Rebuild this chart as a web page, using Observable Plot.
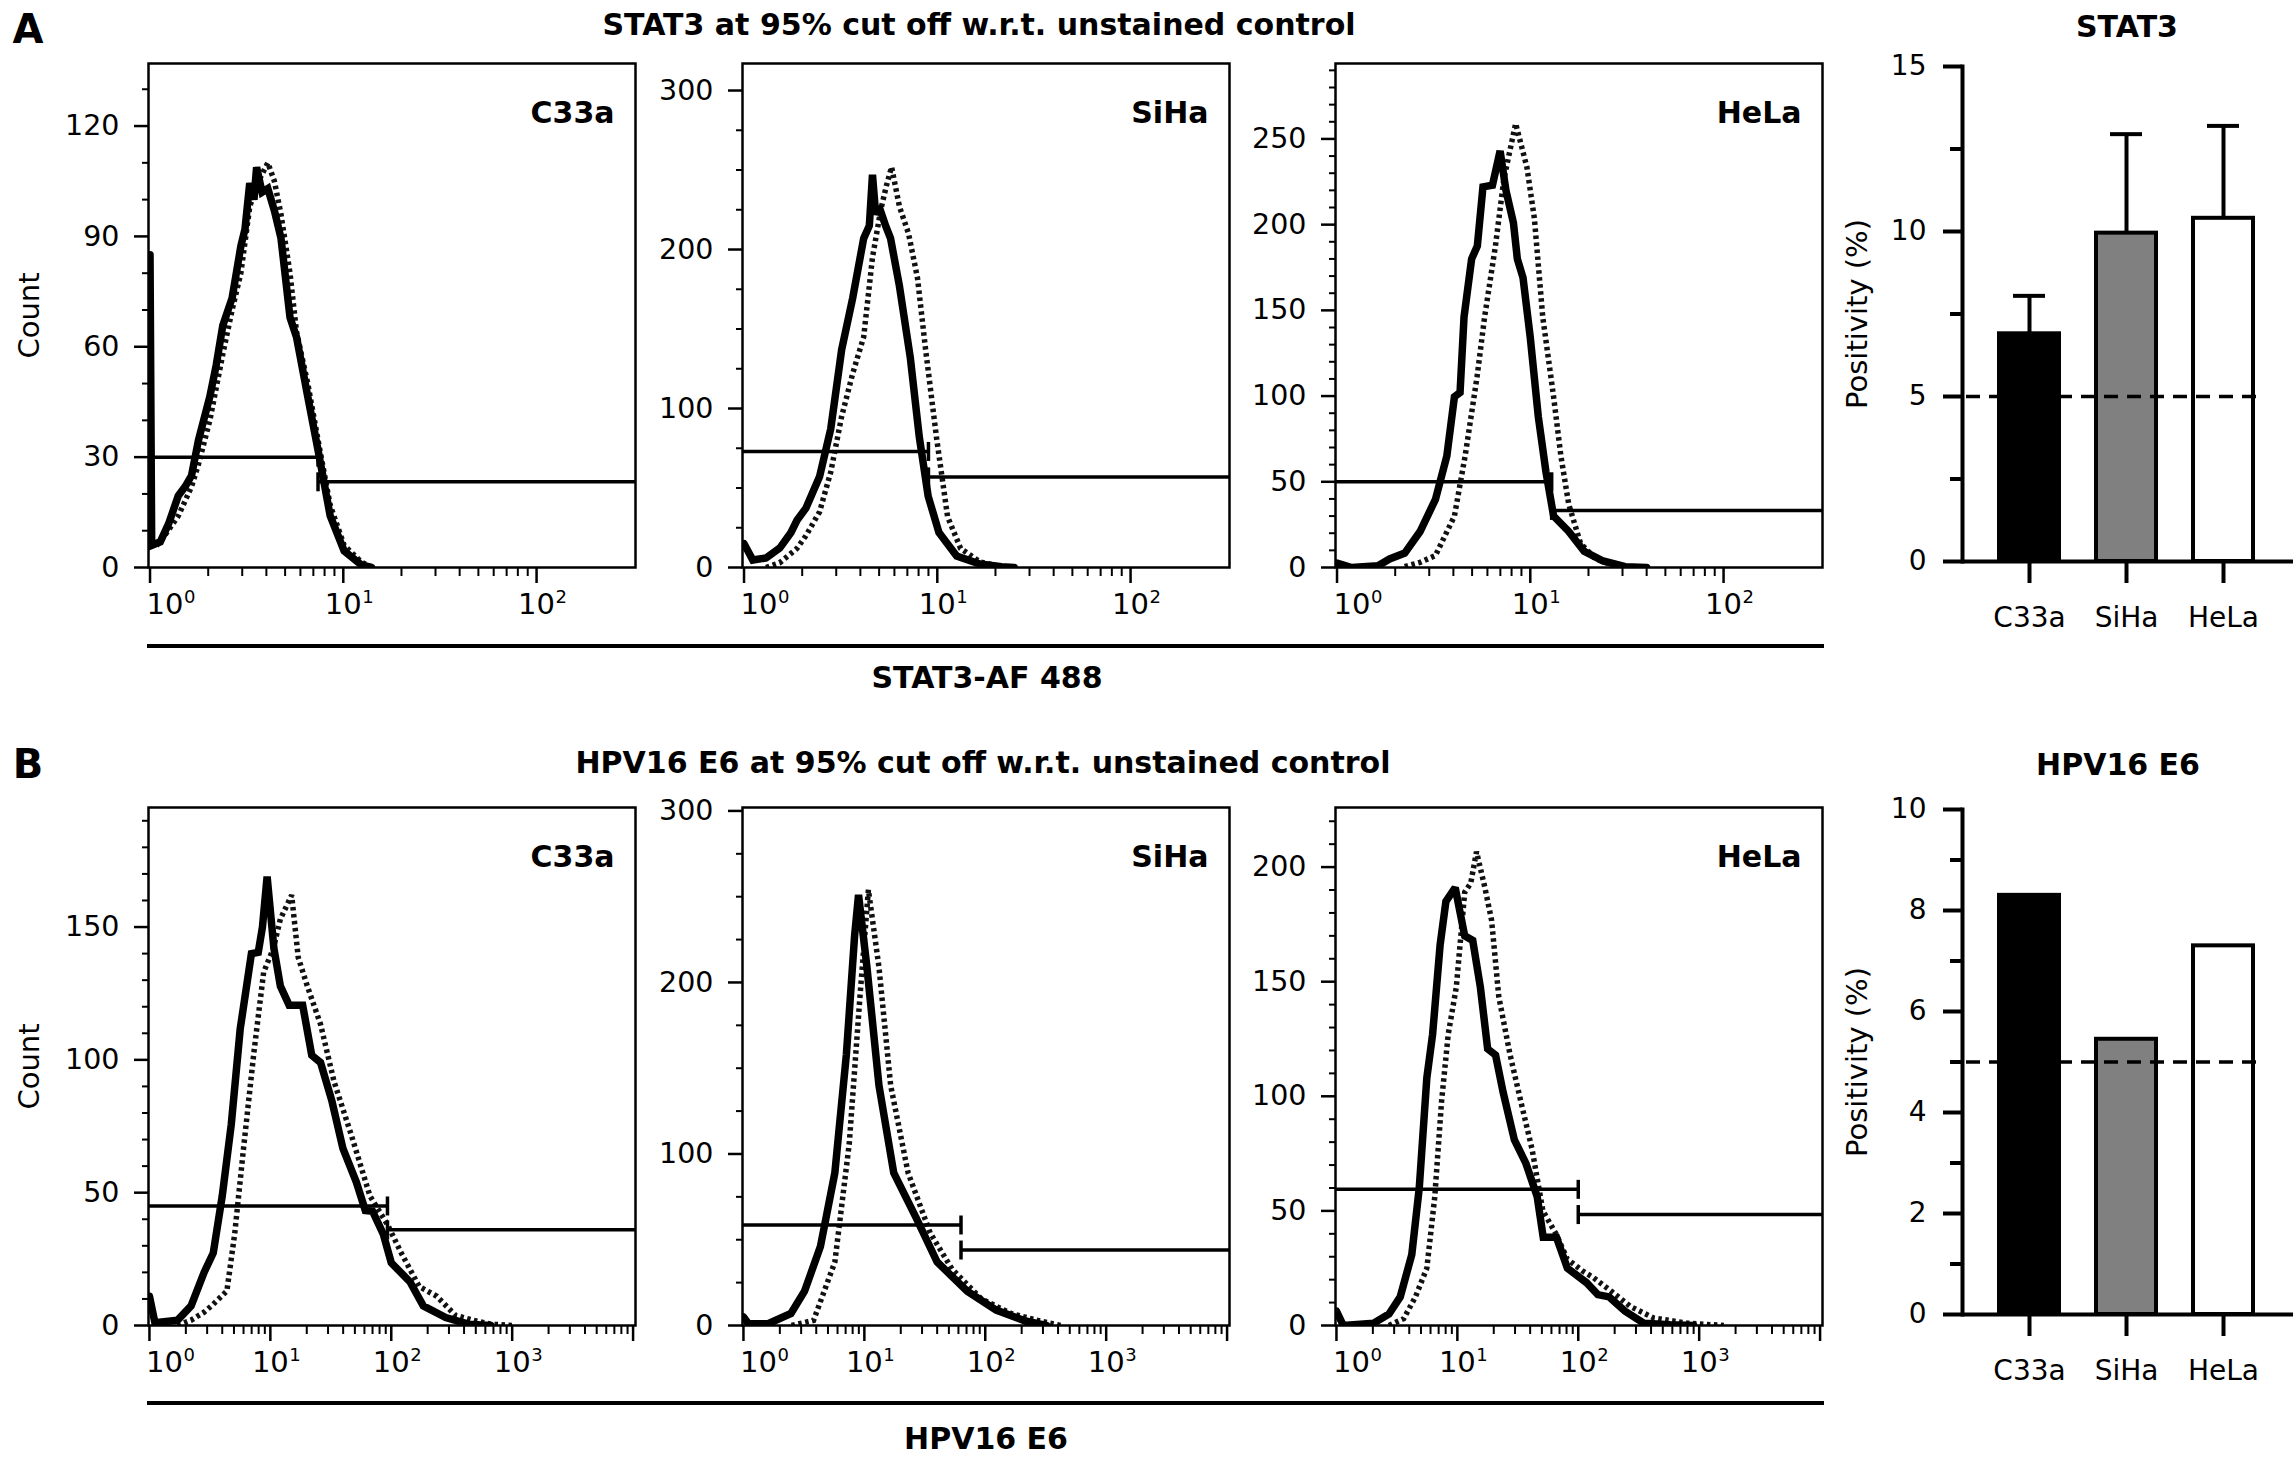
<!DOCTYPE html>
<html>
<head>
<meta charset="utf-8">
<script src="https://cdn.jsdelivr.net/npm/d3@7"></script>
<script src="https://cdn.jsdelivr.net/npm/@observablehq/plot@0.6"></script>
<style>
  html, body { margin: 0; padding: 0; background: #fff; }
  #fig { position: relative; width: 2295px; height: 1464px; background: #fff; overflow: hidden;
         font-family: "DejaVu Sans", Verdana, sans-serif; color: #000; }
  #fig > svg { position: absolute; }
  #fig .lbl { position: absolute; transform: translate(-50%, -50%); white-space: nowrap; line-height: 1; }
  #fig .b { font-weight: bold; }
  #fig .rule { position: absolute; background: #000; }
</style>
</head>
<body>
<div id="fig"></div>
<script>
// ---------- data ----------
const cellLines = ["C33a", "SiHa", "HeLa"];

// percent of cells above the 95% gate of the unstained control
const stat3Positivity = [6.9, 9.95, 10.4];
const stat3Sd = [1.15, 3.0, 2.8];
const e6Positivity = [8.3, 5.45, 7.3];
const cutoffPct = 5;

// STAT3-AF 488 histograms: fluorescence (x) and event counts (y)
const stat3C33aControlX = [1.0, 1.02, 1.13, 1.25, 1.4, 1.52, 1.64, 1.78, 2.04, 2.2, 2.38, 2.66, 2.95, 3.1, 3.28, 3.45, 3.56, 3.8, 4.07, 4.4, 4.76, 5.3, 5.73, 6.55, 7.5, 8.55, 10.1, 12.4, 14];
const stat3C33aControlY = [85, 6, 7, 12, 19.5, 22, 25, 34.6, 46.5, 55, 65.8, 73.3, 87.3, 92, 104.5, 100, 108.8, 102, 103, 97, 89.5, 68, 62.6, 46.4, 30.3, 14.1, 4.5, 0.7, 0];
const stat3C33aStainedX = [1.08, 1.13, 1.4, 1.64, 1.78, 2.04, 2.38, 2.66, 2.95, 3.28, 3.56, 4.07, 4.4, 4.76, 5.3, 5.73, 6.55, 7.5, 8.55, 10.1, 12.4, 14];
const stat3C33aStainedY = [6, 7, 14, 22, 28, 40, 58, 70, 80, 98, 104, 110, 105, 96, 80, 64, 50, 33, 17, 6, 1.5, 0];

const stat3SiHaControlX = [1.0, 1.11, 1.3, 1.53, 1.75, 1.88, 2.09, 2.46, 2.81, 3.2, 3.65, 4.16, 4.45, 4.62, 4.8, 5.0, 5.4, 5.73, 6.37, 7.25, 8.07, 8.97, 10.2, 12.6, 16.6, 21.5, 25];
const stat3SiHaControlY = [15, 4.7, 6, 12.2, 22, 29.7, 37.3, 57.2, 87.2, 137, 169.5, 207, 215, 247, 222, 227, 215, 207, 177, 132, 82, 44.8, 22, 7.2, 2.2, 0.5, 0];
const stat3SiHaStainedX = [1.3, 1.53, 1.88, 2.09, 2.46, 2.81, 3.2, 3.65, 4.16, 4.62, 5.1, 5.45, 5.8, 6.37, 7.1, 7.9, 8.7, 9.9, 11.3, 13.2, 16.6, 21.5, 25];
const stat3SiHaStainedY = [0, 3, 12, 20, 35, 60, 95, 122, 145, 195, 225, 240, 252, 227, 210, 182, 137, 82, 32, 12, 3.5, 0.5, 0];

const stat3HeLaControlX = [1.0, 1.19, 1.63, 1.87, 2.24, 2.69, 3.23, 3.7, 4.05, 4.33, 4.54, 4.97, 5.32, 5.69, 6.37, 6.98, 7.48, 8.18, 8.57, 9.17, 10, 11, 12.05, 13.2, 15.8, 19, 23.8, 31, 40];
const stat3HeLaControlY = [2.6, 0, 1, 5, 8.4, 21, 39.7, 65, 99.6, 102, 146, 180, 187.5, 222, 223, 243, 220, 201, 180, 169, 134, 88, 55.8, 30, 21, 9.5, 3.8, 0.5, 0];
const stat3HeLaStainedX = [2.24, 2.69, 3.23, 4.05, 4.6, 5.3, 5.8, 6.6, 7.3, 8.4, 9.6, 10.5, 11.6, 13.2, 14.4, 15.8, 18.2, 21.8, 26.8, 32, 40];
const stat3HeLaStainedY = [0.5, 3, 7, 30, 65, 111, 146, 187.5, 226.6, 259, 233.6, 203.6, 146, 99.6, 65, 37, 14, 5, 1.5, 0.3, 0];

// HPV16 E6 histograms
const e6C33aControlX = [1.0, 1.11, 1.71, 2.21, 2.83, 3.37, 4.0, 4.75, 5.63, 6.97, 7.94, 8.6, 9.4, 10.7, 12.1, 14.3, 18.5, 22, 26, 32.2, 39.8, 51.4, 61, 70, 85.7, 100, 143, 184, 282, 435, 665];
const e6C33aControlY = [11, 1, 2, 7.4, 20, 27.3, 48.8, 75.7, 111.6, 140, 140.5, 150, 169, 142, 127.8, 120.6, 120.6, 101.7, 99, 84.7, 66.7, 54, 43.3, 43, 34.5, 23.6, 16.4, 7.4, 3, 0.5, 0];
const e6C33aStainedX = [1.71, 2.21, 2.83, 3.37, 4.37, 5.07, 6.0, 7.3, 8.8, 10.6, 12.1, 15.0, 17.0, 20.2, 26, 33.6, 46.5, 66.6, 93, 121, 170, 238, 340, 474, 665, 1000];
const e6C33aStainedY = [0, 2, 5, 8, 13, 34.5, 66.7, 102.6, 133, 142, 153, 162, 138.6, 127.8, 113.4, 91.9, 72, 48.8, 38, 27.3, 14.7, 11, 3.8, 2, 0.5, 0];

const e6SiHaControlX = [1.0, 1.1, 1.6, 2.47, 3.2, 4.33, 5.7, 7.1, 8.3, 8.95, 10.5, 13.2, 17.5, 26.7, 40, 71, 123, 215, 320];
const e6SiHaControlY = [5, 1, 1, 7, 20, 46, 89, 158, 227, 251, 209, 140, 89, 63, 37, 20, 9, 2.6, 0];
const e6SiHaStainedX = [2.5, 3.8, 5.7, 7.5, 9.2, 10.8, 13.2, 16.5, 23, 35, 53, 93, 163, 285, 420];
const e6SiHaStainedY = [0, 3, 37, 106, 192, 254, 209, 140, 89, 54, 33, 15.5, 7, 2.6, 0];

const e6HeLaControlX = [1.0, 1.14, 2.03, 2.72, 3.37, 4.2, 4.84, 5.59, 6.24, 7.2, 8.04, 9.6, 11.5, 13.4, 15.5, 17.8, 20.7, 23.9, 29.6, 36.9, 45.7, 51.3, 66, 81.3, 117, 145, 180, 243, 348, 575, 900];
const e6HeLaControlY = [6.3, 0, 1, 5, 12.5, 31, 60, 108, 127, 166, 185, 191, 170, 168, 147.6, 120.7, 118, 101.8, 81, 70.7, 56.3, 38.5, 38.5, 25, 18.7, 13.5, 12.5, 6.3, 1, 0.3, 0];
const e6HeLaStainedX = [2.72, 3.6, 4.5, 5.59, 6.5, 7.4, 8.4, 9.8, 11.5, 12.9, 14.4, 16.9, 19.2, 22, 27.2, 33.5, 41.5, 51, 66, 81, 108, 134, 190, 270, 420, 800, 1600];
const e6HeLaStainedY = [0, 3, 12.5, 25, 56, 97.7, 127, 147.6, 189, 193, 206.7, 191, 176.7, 143.5, 118.5, 97.7, 76.9, 50, 39.6, 29, 23.9, 20.8, 14.7, 8.3, 3.3, 1, 0];

// gate marker: split point and the heights of its two segments
const stat3Gates = [{at: 7.4, below: 30, above: 23.3}, {at: 9.0, below: 73, above: 57}, {at: 12.9, below: 50, above: 33.3}];
const e6Gates = [{at: 93, below: 45, above: 36}, {at: 63, below: 58.6, above: 44}, {at: 100, below: 59.4, above: 48.4}];

// axis ticks
const stat3YTicks = [[0, 30, 60, 90, 120], [0, 100, 200, 300], [0, 50, 100, 150, 200, 250]];
const stat3YMinorStep = [10, 25, 10];
const stat3YMax = [137, 317, 294];
const e6YTicks = [[0, 50, 100, 150], [0, 100, 200, 300], [0, 50, 100, 150, 200]];
const e6YMinorStep = [10, 25, 10];
const e6YMax = [195, 302, 226];
const stat3Decades = [1, 10, 100];
const stat3Exponents = ["0", "1", "2"];
const e6Decades = [1, 10, 100, 1000, 10000];
const e6Exponents = ["0", "1", "2", "3"];

// ---------- layout ----------
const fig = document.getElementById("fig");
const FONT = "DejaVu Sans, Verdana, sans-serif";
const panelLefts = [148, 742, 1335];
const panelWidth = 487;

const zip = (xs, ys) => xs.map((x, i) => ({x, y: ys[i]}));
const minorLogTicks = (decades) => decades.slice(0, -1).flatMap(d => [2, 3, 4, 5, 6, 7, 8, 9].map(m => m * d));
const plainNumber = (d) => String(d);

// short vertical line used for the gate end caps
const capSymbol = {
  draw(ctx, size) {
    const r = Math.sqrt(size / Math.PI);
    ctx.moveTo(0, -r);
    ctx.lineTo(0, r);
  }
};

function place(svg, left, top) {
  svg.style.left = left + "px";
  svg.style.top = top + "px";
  fig.appendChild(svg);
}

// "10" with a raised exponent at each decade; the first label is nudged inside the frame
function decadeLabels(decades, exponents) {
  const rows = exponents.map((e, i) => ({value: decades[i], exp: e}));
  const first = rows.slice(0, 1), rest = rows.slice(1);
  const base = {x: "value", frameAnchor: "bottom", fontSize: 29};
  const sup = {x: "value", text: "exp", frameAnchor: "bottom", fontSize: 18, textAnchor: "start", dy: 35};
  return [
    Plot.text(first, {...base, text: () => "10", dy: 46, dx: 15}),
    Plot.text(rest, {...base, text: () => "10", dy: 46, dx: 0}),
    Plot.text(first, {...sup, dx: 34}),
    Plot.text(rest, {...sup, dx: 19})
  ];
}

function histogram(o) {
  const mL = 140, mT = 20, mR = 12, mB = 80;
  const yMinor = d3.range(0, o.yMax, o.minorStep).filter(v => !o.yTicks.includes(v));
  const g = o.gate;
  const svg = Plot.plot({
    width: mL + panelWidth + mR,
    height: mT + o.frameHeight + mB,
    marginLeft: mL, marginTop: mT, marginRight: mR, marginBottom: mB,
    x: {type: "log", domain: o.xDomain},
    y: {domain: [0, o.yMax]},
    style: {background: "none", overflow: "visible", fontFamily: FONT},
    marks: [
      Plot.axisY(yMinor, {tickSize: 6, strokeWidth: 2, tickFormat: () => "", label: null}),
      Plot.axisY(o.yTicks, {tickSize: 14, tickPadding: 15, strokeWidth: 2.5, fontSize: 28.5, tickFormat: plainNumber, label: null}),
      Plot.axisX(minorLogTicks(o.decades), {tickSize: 9, strokeWidth: 2, tickFormat: () => "", label: null}),
      Plot.axisX(o.decades, {tickSize: 16, strokeWidth: 2.5, tickFormat: () => "", label: null}),
      ...decadeLabels(o.decades, o.exponents),
      Plot.line(o.stained, {x: "x", y: "y", stroke: "#111", strokeWidth: 5.5, strokeDasharray: "3.5,3.5", strokeLinecap: "butt", strokeLinejoin: "miter", strokeMiterlimit: 2, clip: true}),
      Plot.line(o.control, {x: "x", y: "y", stroke: "#000", strokeWidth: 7.5, strokeLinejoin: "miter", strokeMiterlimit: 2, clip: true}),
      Plot.ruleY([g], {x1: () => o.xDomain[0], x2: d => d.at, y: d => d.below, strokeWidth: 3.5}),
      Plot.ruleY([g], {x1: d => d.at, x2: () => o.xDomain[1], y: d => d.above, strokeWidth: 3.5}),
      Plot.dot([{x: g.at, y: g.below}, {x: g.at, y: g.above}], {x: "x", y: "y", symbol: capSymbol, r: 9.5, fill: "none", stroke: "#000", strokeWidth: 3.5}),
      Plot.frame({stroke: "#000", strokeWidth: 2.5}),
      Plot.text([o.name], {frameAnchor: "top-right", dx: -21, dy: 38, textAnchor: "end", fontWeight: "bold", fontSize: 30}),
      o.countLabel ? Plot.text(["Count"], {frameAnchor: "left", rotate: -90, dx: -119, textAnchor: "middle", fontSize: 29}) : null
    ]
  });
  place(svg, o.frameLeft - mL, o.frameTop - mT);
}

function barPanel(o) {
  const mL = 162, mT = 30, mR = 2, mB = 90;
  const rows = cellLines.map((cell, i) => ({cell, value: o.values[i], hi: o.sd ? o.values[i] + o.sd[i] : null}));
  const svg = Plot.plot({
    width: 495,
    height: mT + o.frameHeight + mB,
    marginLeft: mL, marginTop: mT, marginRight: mR, marginBottom: mB,
    x: {domain: cellLines, range: [179.25, 471.75], paddingInner: 0.385, paddingOuter: 0.1925},
    y: {domain: [0, o.yMax]},
    color: {domain: cellLines, range: ["#000", "#808080", "#fff"]},
    style: {background: "none", overflow: "visible", fontFamily: FONT},
    marks: [
      Plot.axisY(o.yMinor, {tickSize: 12, strokeWidth: 4, tickFormat: () => "", label: null}),
      Plot.axisY(o.yTicks, {tickSize: 19, tickPadding: 17, strokeWidth: 4, fontSize: 28, tickFormat: plainNumber, label: null}),
      Plot.axisX({tickSize: 22, tickPadding: 24, strokeWidth: 4, fontSize: 28, label: null}),
      o.sd ? Plot.ruleX(rows, {x: "cell", y1: "value", y2: "hi", strokeWidth: 4}) : null,
      o.sd ? Plot.tickY(rows, {x: "cell", y: "hi", strokeWidth: 4, insetLeft: 14, insetRight: 14}) : null,
      Plot.barY(rows, {x: "cell", y: "value", fill: "cell", stroke: "#000", strokeWidth: 4}),
      Plot.ruleY([cutoffPct], {strokeDasharray: "14,9", strokeWidth: 3.5, insetLeft: 4, insetRight: 31}),
      Plot.ruleY([0], {strokeWidth: 4}),
      Plot.frame({anchor: "left", strokeWidth: 4}),
      Plot.text(["Positivity (%)"], {frameAnchor: "left", rotate: -90, dx: -105, textAnchor: "middle", fontSize: 29})
    ]
  });
  place(svg, 1800, o.frameTop - mT);
}

function label(text, x, y, size, bold) {
  const el = document.createElement("div");
  el.className = "lbl" + (bold ? " b" : "");
  el.textContent = text;
  el.style.left = x + "px";
  el.style.top = y + "px";
  el.style.fontSize = size + "px";
  fig.appendChild(el);
}

function hline(x, y, w, h) {
  const el = document.createElement("div");
  el.className = "rule";
  Object.assign(el.style, {left: x + "px", top: y + "px", width: w + "px", height: h + "px"});
  fig.appendChild(el);
}

// ---------- row A: STAT3 ----------
const stat3Curves = [
  [zip(stat3C33aControlX, stat3C33aControlY), zip(stat3C33aStainedX, stat3C33aStainedY)],
  [zip(stat3SiHaControlX, stat3SiHaControlY), zip(stat3SiHaStainedX, stat3SiHaStainedY)],
  [zip(stat3HeLaControlX, stat3HeLaControlY), zip(stat3HeLaStainedX, stat3HeLaStainedY)]
];
cellLines.forEach((name, i) => histogram({
  name, frameLeft: panelLefts[i], frameTop: 63, frameHeight: 504,
  xDomain: [0.982, 325], decades: stat3Decades, exponents: stat3Exponents,
  yMax: stat3YMax[i], yTicks: stat3YTicks[i], minorStep: stat3YMinorStep[i],
  control: stat3Curves[i][0], stained: stat3Curves[i][1], gate: stat3Gates[i],
  countLabel: i === 0
}));
barPanel({frameTop: 66, frameHeight: 495, yMax: 15, yTicks: [0, 5, 10, 15], yMinor: [2.5, 7.5, 12.5],
          values: stat3Positivity, sd: stat3Sd});

// ---------- row B: HPV16 E6 ----------
const e6Curves = [
  [zip(e6C33aControlX, e6C33aControlY), zip(e6C33aStainedX, e6C33aStainedY)],
  [zip(e6SiHaControlX, e6SiHaControlY), zip(e6SiHaStainedX, e6SiHaStainedY)],
  [zip(e6HeLaControlX, e6HeLaControlY), zip(e6HeLaStainedX, e6HeLaStainedY)]
];
cellLines.forEach((name, i) => histogram({
  name, frameLeft: panelLefts[i], frameTop: 807, frameHeight: 518,
  xDomain: [0.982, 10471], decades: e6Decades, exponents: e6Exponents,
  yMax: e6YMax[i], yTicks: e6YTicks[i], minorStep: e6YMinorStep[i],
  control: e6Curves[i][0], stained: e6Curves[i][1], gate: e6Gates[i],
  countLabel: i === 0
}));
barPanel({frameTop: 809, frameHeight: 505, yMax: 10, yTicks: [0, 2, 4, 6, 8, 10], yMinor: [1, 3, 5, 7, 9],
          values: e6Positivity, sd: null});

// ---------- titles ----------
label("A", 28, 29, 40, true);
label("B", 28, 764, 40, true);
label("STAT3 at 95% cut off w.r.t. unstained control", 979, 25, 30, true);
label("HPV16 E6 at 95% cut off w.r.t. unstained control", 983, 763, 30, true);
label("STAT3", 2127, 27, 30, true);
label("HPV16 E6", 2118, 765, 30, true);
hline(147, 644, 1677, 4);
hline(147, 1401, 1677, 4);
label("STAT3-AF 488", 987, 678, 30, true);
label("HPV16 E6", 986, 1439, 30, true);
</script>
</body>
</html>
